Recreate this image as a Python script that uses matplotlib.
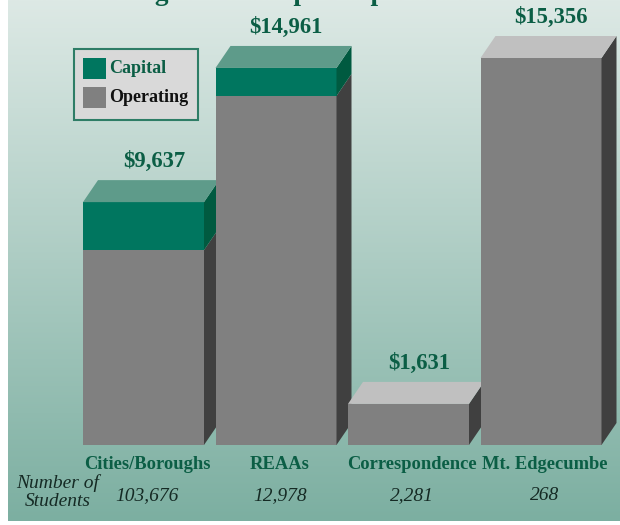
import matplotlib
matplotlib.use("Agg")
import matplotlib.pyplot as plt
import numpy as np
from matplotlib.patches import Polygon, Rectangle

# ---------------- data ----------------
categories = ["Cities/Boroughs", "REAAs", "Correspondence", "Mt. Edgecumbe"]
operating = [7732, 13851, 1631, 15356]
capital = [1905, 1110, 0, 0]
value_labels = ["$9,637", "$14,961", "$1,631", "$15,356"]
students = ["103,676", "12,978", "2,281", "268"]
legend_labels = ["Capital", "Operating"]
title = "Average Revenue per Pupil"

# ---------------- style ----------------
SERIF = ["Liberation Serif", "DejaVu Serif"]
GREEN_TXT = "#0b5e45"
NUM_TXT = "#152a24"
CAP_FRONT, CAP_SIDE, CAP_TOP = "#00765f", "#005a40", "#5e9b8a"
OP_FRONT, OP_SIDE, OP_TOP = "#808080", "#404040", "#c0c0c0"

W, H = 620, 525
fig = plt.figure(figsize=(W / 100, H / 100), dpi=100)

# background gradient panel
bg = fig.add_axes([0, 0, 1, 1], zorder=0)
bg.set_xlim(0, W)
bg.set_ylim(H, 0)
bg.axis("off")
top_c = np.array([221, 233, 229]) / 255
bot_c = np.array([124, 175, 161]) / 255
t = np.linspace(0, 1, 256)[:, None, None]
grad = top_c[None, None, :] * (1 - t) + bot_c[None, None, :] * t
bg.imshow(grad, extent=(8, W, 521, 0), aspect="auto", interpolation="bilinear")

# main axes (data coordinates)
pitch_px = 132.5
left_px = 143.5 - 0.6 * pitch_px
ymax = 17000
px_per_unit = 387 / 15356
ax = fig.add_axes([left_px / W, 80 / H, 4.2 * pitch_px / W, ymax * px_per_unit / H], zorder=1)
ax.set_xlim(-0.6, 3.6)
ax.set_ylim(0, ymax)
ax.axis("off")
ax.patch.set_alpha(0)

bw = 121 / pitch_px
dx = 15 / pitch_px
dy = 22 / px_per_unit

x = np.arange(len(categories))
for i in x:
    op, cap = operating[i], capital[i]
    tot = op + cap
    z = 2 + i
    xl, xr = i - bw / 2, i + bw / 2
    ax.bar(i, op, bw, color=OP_FRONT, zorder=z, clip_on=False)
    ax.add_patch(Polygon([(xr, 0), (xr + dx, dy), (xr + dx, op + dy), (xr, op)],
                         closed=True, color=OP_SIDE, zorder=z, clip_on=False, lw=0))
    if cap > 0:
        ax.bar(i, cap, bw, bottom=op, color=CAP_FRONT, zorder=z, clip_on=False)
        ax.add_patch(Polygon([(xr, op), (xr + dx, op + dy), (xr + dx, tot + dy), (xr, tot)],
                             closed=True, color=CAP_SIDE, zorder=z, clip_on=False, lw=0))
    top_col = CAP_TOP if cap > 0 else OP_TOP
    ax.add_patch(Polygon([(xl, tot), (xl + dx, tot + dy), (xr + dx, tot + dy), (xr, tot)],
                         closed=True, color=top_col, zorder=z, clip_on=False, lw=0))
    ax.annotate(value_labels[i], xy=(i + dx / 2, tot + dy), xytext=(2, 9.5),
                textcoords="offset points", ha="center", va="baseline",
                fontsize=16.3, fontweight="bold", family=SERIF, color=GREEN_TXT,
                zorder=20)
    ax.annotate(categories[i], xy=(i + dx / 4, 0), xytext=(0, -14),
                textcoords="offset points", ha="center", va="center",
                fontsize=13.3, fontweight="bold", family=SERIF, color=GREEN_TXT)
    ax.annotate(students[i], xy=(i + dx / 4, 0), xytext=(0, -36.5),
                textcoords="offset points", ha="center", va="center",
                fontsize=14, style="italic", family=SERIF, color=NUM_TXT)

# overlay in pixel coordinates for legend, side caption, title
ov = fig.add_axes([0, 0, 1, 1], zorder=5)
ov.set_xlim(0, W)
ov.set_ylim(H, 0)
ov.axis("off")
ov.patch.set_alpha(0)

ov.text(58, 483, "Number of", ha="center", va="center", fontsize=14,
        style="italic", family=SERIF, color=NUM_TXT)
ov.text(58, 502, "Students", ha="center", va="center", fontsize=14,
        style="italic", family=SERIF, color=NUM_TXT)

ov.text(86, 0.5, title, ha="left", va="baseline", fontsize=19.5,
        fontweight="bold", family=SERIF, color=GREEN_TXT)

# legend box
ov.add_patch(Rectangle((74, 49), 124, 71, facecolor="#d9d9d9", edgecolor="#2e7d66", lw=1.5))
leg_colors = [CAP_FRONT, OP_FRONT]
leg_txt_colors = [GREEN_TXT, "#111111"]
for k, (lab, c, tc) in enumerate(zip(legend_labels, leg_colors, leg_txt_colors)):
    y0 = 58 + k * 29
    ov.add_patch(Rectangle((83, y0), 23, 21, facecolor=c, edgecolor="none"))
    ov.text(109, y0 + 10.5, lab, ha="left", va="center", fontsize=13,
            fontweight="bold", family=SERIF, color=tc)

fig.savefig("out.png", dpi=100)
